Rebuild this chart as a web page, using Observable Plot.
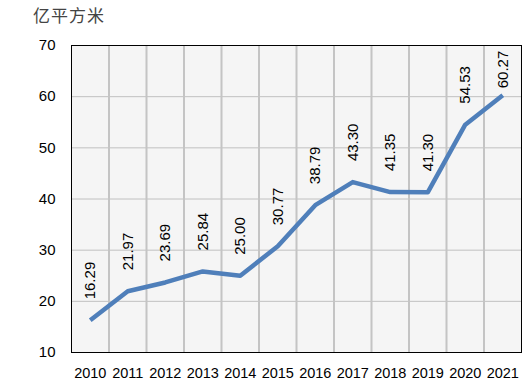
<!DOCTYPE html>
<html>
<head>
<meta charset="utf-8">
<script src="https://cdn.jsdelivr.net/npm/d3@7"></script>
<script src="https://cdn.jsdelivr.net/npm/@observablehq/plot@0.6"></script>
<style>
  body { margin: 0; background: #fff; }
  #wrap { position: relative; width: 527px; height: 387px; }
  #title { position: absolute; left: 33px; top: 2px; font-family: "Noto Sans CJK SC", sans-serif; font-size: 17px; color: #444; letter-spacing: 1px; }
  .yax text { font-size: 15px; }
</style>
</head>
<body>
<div id="wrap">
  <div id="title">亿平方米</div>
  <div id="chart"></div>
</div>
<script>
const years = [2010, 2011, 2012, 2013, 2014, 2015, 2016, 2017, 2018, 2019, 2020, 2021];
const values = [16.29, 21.97, 23.69, 25.84, 25.00, 30.77, 38.79, 43.30, 41.35, 41.30, 54.53, 60.27];
const labels = ["16.29", "21.97", "23.69", "25.84", "25.00", "30.77", "38.79", "43.30", "41.35", "41.30", "54.53", "60.27"];
const yTicks = [10, 20, 30, 40, 50, 60, 70];

const data = years.map((yr, i) => ({year: yr, value: values[i], label: labels[i]}));
const boundaries = years.slice(0, -1).map(y => y + 0.5);
const font = "Liberation Sans, Arial, sans-serif";

const plot = Plot.plot({
  width: 527,
  height: 387,
  marginLeft: 71,
  marginRight: 6,
  marginTop: 45,
  marginBottom: 35,
  style: {fontFamily: font, fontSize: "14.5px", color: "#000", background: "transparent"},
  x: {domain: [years[0] - 0.5, years[years.length - 1] + 0.5], ticks: years, tickFormat: d => String(d), tickSize: 0, tickPadding: 15, label: null},
  y: {domain: [10, 70], ticks: yTicks, tickSize: 0, tickPadding: 16, label: null},
  marks: [
    Plot.frame({fill: "#f5f5f5"}),
    Plot.ruleY(yTicks.slice(1, -1), {stroke: "#c0c0c0", strokeWidth: 1}),
    Plot.ruleX(boundaries, {stroke: "#c4c4c4", strokeWidth: 2}),
    Plot.frame({stroke: "#000", strokeWidth: 1}),
    Plot.axisY({ticks: yTicks, tickSize: 0, tickPadding: 16, fontSize: 15, label: null}),
    Plot.line(data, {x: "year", y: "value", stroke: "#4f7fba", strokeWidth: 4.5, strokeLinejoin: "round", strokeLinecap: "butt"}),
    Plot.text(data.slice(0, -1), {x: "year", y: "value", text: "label", rotate: -90, textAnchor: "start", dy: -21, fill: "#000", fontSize: 15}),
    Plot.text(data.slice(-1), {x: "year", y: "value", text: "label", rotate: -90, textAnchor: "start", dy: -7, fill: "#000", fontSize: 15})
  ]
});
document.getElementById("chart").appendChild(plot);
</script>
</body>
</html>
